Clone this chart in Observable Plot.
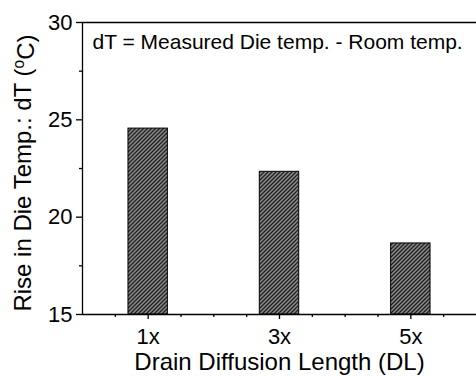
<!DOCTYPE html>
<html>
<head>
<meta charset="utf-8">
<script src="https://cdn.jsdelivr.net/npm/d3@7"></script>
<script src="https://cdn.jsdelivr.net/npm/@observablehq/plot@0.6"></script>
<style>
  html, body { margin: 0; padding: 0; background: #fff; }
  #chart svg { display: block; }
</style>
</head>
<body>
<div id="chart"></div>
<script>
// Data
const categories = ["1x", "3x", "5x"];
const positions = [1, 3, 5];
const values = [24.55, 22.33, 18.65];
const yTicks = [15, 20, 25, 30];
const yMinorTicks = [17.5, 22.5, 27.5];
const xMinorTicks = [0.5, 1.5, 2, 2.5, 3.5, 4, 4.5, 5.5];
const xLabel = "Drain Diffusion Length (DL)";
const yLabel = "Rise in Die Temp.: dT (°C)";
const note = "dT = Measured Die temp. - Room temp.";

const data = categories.map((c, i) => ({cat: c, x: positions[i], v: values[i]}));
const halfWidth = 0.3;
const font = "'Liberation Sans', Arial, Helvetica, sans-serif";

const chart = Plot.plot({
  width: 476,
  height: 376,
  marginLeft: 82,
  marginRight: 0,
  marginTop: 22,
  marginBottom: 62,
  x: {domain: [0, 6]},
  y: {domain: [15, 30]},
  style: {fontFamily: font, color: "#000", background: "#fff", overflow: "visible"},
  marks: [
    Plot.rect(data, {x1: d => d.x - halfWidth, x2: d => d.x + halfWidth, y1: 15, y2: "v",
      fill: "url(#hatch)", stroke: "#000", strokeWidth: 1}),
    Plot.ruleX([0], {stroke: "#000", strokeWidth: 1.3}),
    Plot.ruleY([15, 30], {stroke: "#000", strokeWidth: 1.3}),
    Plot.axisY({ticks: yTicks, tickSize: 6, tickPadding: 4, tickFormat: d => String(d),
      fontSize: 22, label: null, strokeWidth: 1.3}),
    Plot.axisY({ticks: yMinorTicks, tickSize: 3, tickFormat: () => "", label: null, strokeWidth: 1.3}),
    Plot.axisX({ticks: positions, tickSize: 5, tickPadding: 9,
      tickFormat: d => categories[positions.indexOf(d)], fontSize: 22, label: null, strokeWidth: 1.3}),
    Plot.axisX({ticks: xMinorTicks, tickSize: 3, tickFormat: () => "", label: null, strokeWidth: 1.3}),
    Plot.text([xLabel], {frameAnchor: "bottom", lineAnchor: "top", dy: 38, fontSize: 24, fill: "#000"}),
    Plot.text([yLabel], {frameAnchor: "left", rotate: -90, textAnchor: "middle", lineAnchor: "top",
      dx: -69, dy: 4.5, fontSize: 24, fill: "#000"}),
    Plot.text([note], {frameAnchor: "top-left", textAnchor: "start", lineAnchor: "top",
      dx: 10, dy: 12, fontSize: 21, fill: "#000"})
  ]
});

// Hatch pattern for bars
const svg = d3.select(chart);
const defs = svg.insert("defs", ":first-child");
const pat = defs.append("pattern")
  .attr("id", "hatch")
  .attr("patternUnits", "userSpaceOnUse")
  .attr("width", 4).attr("height", 4);
pat.append("rect").attr("width", 4).attr("height", 4).attr("fill", "#8c8c8c");
pat.append("path")
  .attr("d", "M-1,1 l2,-2 M0,4 l4,-4 M3,5 l2,-2")
  .attr("stroke", "#222").attr("stroke-width", 1.4);

// Superscript "o" in the y label
svg.selectAll("text").each(function() {
  const t = d3.select(this);
  if (t.text() === yLabel) {
    t.text(null);
    t.append("tspan").text("Rise in Die Temp.: dT (");
    t.append("tspan").attr("dy", "-0.45em").attr("font-size", "0.65em").text("o");
    t.append("tspan").attr("dy", "0.45em").text("C)");
  }
});

document.getElementById("chart").appendChild(chart);
</script>
</body>
</html>
